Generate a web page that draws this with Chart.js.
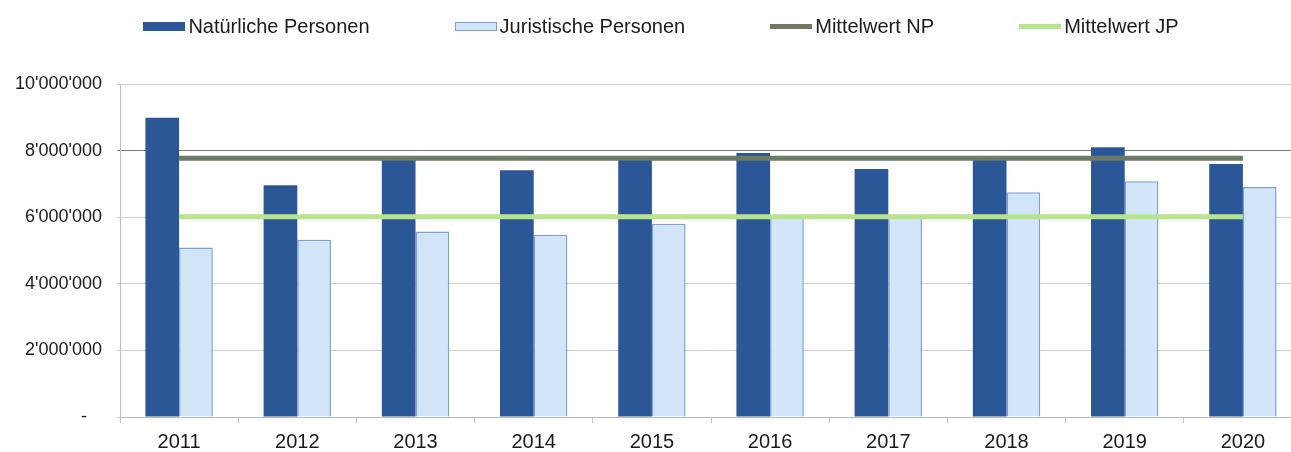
<!DOCTYPE html>
<html>
<head>
<meta charset="utf-8">
<script src="https://cdn.jsdelivr.net/npm/chart.js@4"></script>
<style>
  html, body { margin:0; padding:0; background:#fff; }
  #wrap { position:relative; width:1291px; height:452px; overflow:hidden; }
  #legend { position:absolute; top:15px; left:0; width:1291px; padding-left:31px; box-sizing:border-box;
            display:flex; justify-content:center; align-items:center; gap:85px;
            font-family:'Liberation Sans', Arial, sans-serif; font-size:20px; color:#1a1a1a; }
  .item { display:flex; align-items:center; white-space:nowrap; }
  .swatch { width:42px; margin-right:3px; box-sizing:border-box; }
  #plot { position:absolute; left:0; top:0; }
</style>
</head>
<body>
<div id="wrap">
  <canvas id="plot" width="1312" height="452"></canvas>
  <div id="legend"></div>
</div>
<script>
const years = ['2011','2012','2013','2014','2015','2016','2017','2018','2019','2020'];
const natuerlich = [8990000, 6960000, 7780000, 7410000, 7780000, 7930000, 7450000, 7720000, 8100000, 7600000];
const juristisch = [5090000, 5320000, 5570000, 5470000, 5800000, 6050000, 6070000, 6750000, 7080000, 6910000];
const mittelNP = [7770000, 7770000, 7770000, 7770000, 7770000, 7770000, 7770000, 7770000, 7770000, 7770000];
const mittelJP = [6010000, 6010000, 6010000, 6010000, 6010000, 6010000, 6010000, 6010000, 6010000, 6010000];

const FONT = "'Liberation Sans', Arial, sans-serif";

function formatTick(v){
  if(v === 0) return '-   ';
  return String(v).replace(/\B(?=(\d{3})+(?!\d))/g, "'");
}

DocumentReady(function(){
  const ctx = document.getElementById('plot');
  const chart = new Chart(ctx, {
    data: {
      labels: years,
      datasets: [
        { type:'bar', label:'Natürliche Personen', data:natuerlich, order:1,
          backgroundColor:'#2b5797', borderWidth:0 },
        { type:'bar', label:'Juristische Personen', data:juristisch, order:1,
          backgroundColor:'#d3e5f8', borderColor:'#7b9fdc', borderWidth:1.5 },
        { type:'line', label:'Mittelwert NP', data:mittelNP, order:0,
          borderColor:'#6d7a66', borderWidth:5, pointRadius:0, fill:false },
        { type:'line', label:'Mittelwert JP', data:mittelJP, order:0,
          borderColor:'#b8e58c', borderWidth:5, pointRadius:0, fill:false }
      ]
    },
    options: {
      responsive:false,
      animation:false,
      layout: { padding: { top:84, right:10, left:0, bottom:0 } },
      datasets: { bar: { barPercentage:1, categoryPercentage:0.57 } },
      plugins: { legend: { display:false }, tooltip: { enabled:false } },
      scales: {
        x: {
          offset:true,
          grid: { drawOnChartArea:false, tickLength:6, color:'#c4c4c4' },
          border: { color:'#b8b8b8' },
          ticks: { font:{ family:FONT, size:20 }, color:'#1a1a1a', padding:7, maxRotation:0 },
          afterFit: s => { s.height = 35; }
        },
        y: {
          min:0, max:10000000,
          ticks: { stepSize:2000000, callback:formatTick, font:{ family:FONT, size:18 }, color:'#1a1a1a', padding:15 },
          grid: { color: c => c.tick && c.tick.value === 8000000 ? '#7a7a7a' : '#cfcfcf', tickLength:3 },
          border: { color:'#bdbdbd' },
          afterFit: s => { s.width = 120; }
        }
      }
    }
  });

  // legend in HTML, built from the datasets
  const legend = document.getElementById('legend');
  chart.data.datasets.forEach(ds => {
    const item = document.createElement('div');
    item.className = 'item';
    const sw = document.createElement('span');
    sw.className = 'swatch';
    if(ds.type === 'bar'){
      sw.style.height = '9px';
      sw.style.background = ds.backgroundColor;
      if(ds.borderWidth) sw.style.border = '1.5px solid ' + ds.borderColor;
    } else {
      sw.style.height = '5px';
      sw.style.background = ds.borderColor;
    }
    const tx = document.createElement('span');
    tx.textContent = ds.label;
    item.appendChild(sw);
    item.appendChild(tx);
    legend.appendChild(item);
  });
});

function DocumentReady(cb){
  if(document.readyState!=='loading')cb();
  else document.addEventListener('DOMContentLoaded',cb);
}
</script>
</body>
</html>
